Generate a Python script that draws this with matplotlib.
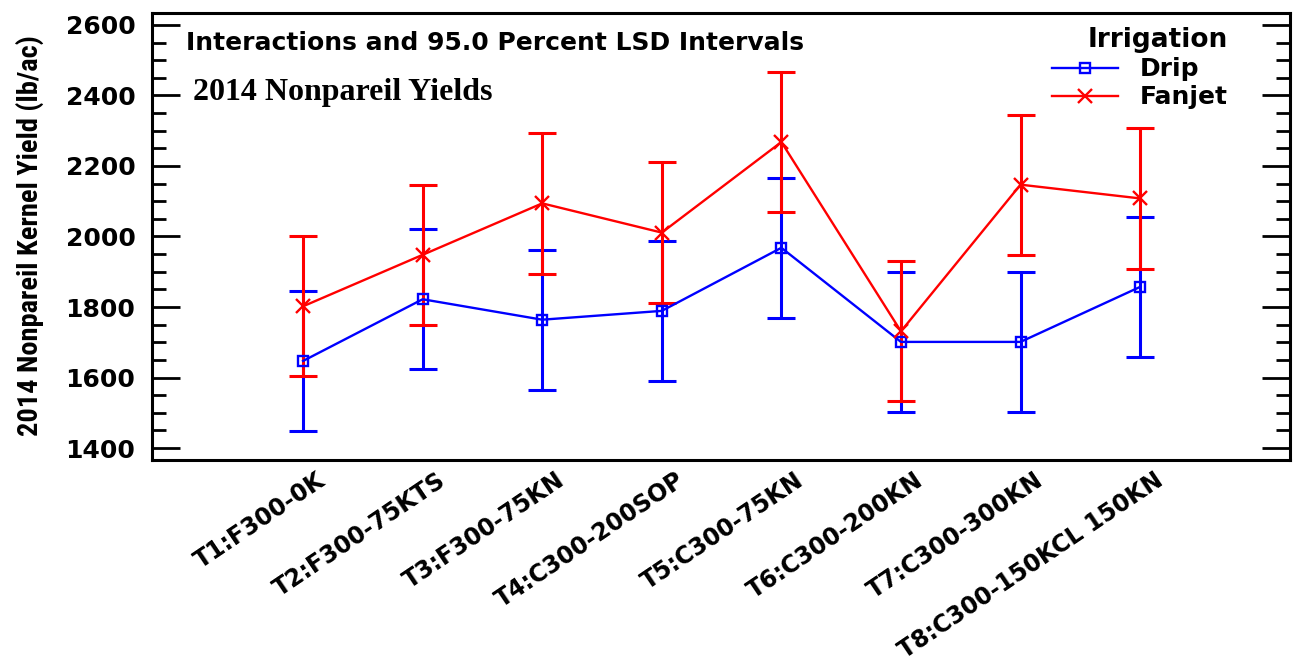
import matplotlib
matplotlib.use("Agg")
import matplotlib.pyplot as plt
import matplotlib.transforms as mtransforms
from matplotlib.ticker import MultipleLocator
from matplotlib import font_manager
from matplotlib.font_manager import FontProperties

treatments = ["T1:F300-0K", "T2:F300-75KTS", "T3:F300-75KN", "T4:C300-200SOP",
              "T5:C300-75KN", "T6:C300-200KN", "T7:C300-300KN", "T8:C300-150KCL 150KN"]
drip = [1647, 1822, 1764, 1789, 1968, 1701, 1701, 1857]
fanjet = [1802, 1948, 2094, 2011, 2268, 1731, 2147, 2108]
lsd_half = [199, 199, 199, 199, 199, 199, 199, 199]

# find a condensed / narrow bold font for the y label if one is installed
cands = []
for f in font_manager.fontManager.ttflist:
    fn = f.fname.lower()
    if ("narrow" in fn or "condensed" in fn) and ("bold" in fn) and ("oblique" not in fn) \
            and ("italic" not in fn) and ("extrabold" not in fn) and ("semibold" not in fn):
        cands.append(f.fname)
pref = ["liberationsansnarrow", "robotocondensed", "dejavusanscondensed", "opensans_condensed"]
cands.sort(key=lambda p: next((i for i, k in enumerate(pref) if k in p.lower().replace("-", "").replace(" ", "")), 99))
if cands:
    narrow_fp = FontProperties(fname=cands[0])
else:
    narrow_fp = FontProperties(family="DejaVu Sans", weight="bold")

fig = plt.figure(figsize=(12.93, 6.69), dpi=100)
ax = fig.add_axes([0.1176, 0.3124, 0.8801, 0.6682])

x = list(range(1, len(treatments) + 1))
ax.errorbar(x, drip, yerr=lsd_half, fmt="none", ecolor="#0000ff", elinewidth=2.2,
            capsize=10, capthick=2.2, zorder=3)
ax.errorbar(x, fanjet, yerr=lsd_half, fmt="none", ecolor="#ff0000", elinewidth=2.2,
            capsize=10, capthick=2.2, zorder=4)
l1, = ax.plot(x, drip, color="#0000ff", lw=1.7, marker="s", ms=7, mfc="none",
              mew=1.7, label="Drip", zorder=5)
l2, = ax.plot(x, fanjet, color="#ff0000", lw=1.7, marker="x", ms=10, mew=1.7,
              label="Fanjet", zorder=6)

ax.set_xlim(-0.263, 9.254)
ax.set_ylim(1366, 2634)
ax.yaxis.set_major_locator(MultipleLocator(200))
ax.yaxis.set_minor_locator(MultipleLocator(50))
ax.tick_params(axis="y", which="major", direction="in", length=20, width=2,
               left=True, right=True, pad=12, labelsize=18)
ax.tick_params(axis="y", which="minor", direction="in", length=10, width=2,
               left=True, right=True)
for lab in ax.get_yticklabels():
    lab.set_fontweight("bold")

ax.set_xticks(x)
ax.set_xticklabels(treatments, rotation=34, ha="right", va="top",
                   fontsize=17, fontweight="bold")
ax.tick_params(axis="x", which="both", length=0, pad=6)
offset = mtransforms.ScaledTranslation(27 / 100, 0, fig.dpi_scale_trans)
for lab in ax.get_xticklabels():
    lab.set_transform(lab.get_transform() + offset)

for s in ax.spines.values():
    s.set_linewidth(2.2)

ylab = ax.set_ylabel("2014 Nonpareil Kernel Yield (lb/ac)", fontproperties=narrow_fp)
ylab.set_fontsize(20)
ax.yaxis.set_label_coords(-0.095, 0.502)

ax.text(0.03, 0.932, "Interactions and 95.0 Percent LSD Intervals",
        transform=ax.transAxes, fontsize=18, fontweight="bold", va="center")
ax.text(0.036, 0.821, "2014 Nonpareil Yields", transform=ax.transAxes,
        fontsize=23, fontweight="bold", family="Liberation Serif", va="center")

leg = ax.legend(handles=[l1, l2], loc="upper left",
                bbox_to_anchor=((1052 - 152) / 1138.0, 0.968),
                frameon=False, title="Irrigation", fontsize=18, title_fontsize=19,
                handlelength=2.64, handletextpad=0.88, labelspacing=0.16,
                borderaxespad=0.0, borderpad=0.0, alignment="right")
leg.get_title().set_fontweight("bold")
for t in leg.get_texts():
    t.set_fontweight("bold")

# fit y label length to ~400 px like the reference
fig.canvas.draw()
r = fig.canvas.get_renderer()
h = ylab.get_window_extent(r).height
ylab.set_fontsize(20 * 400.0 / h)

fig.savefig("out.png", dpi=100)
